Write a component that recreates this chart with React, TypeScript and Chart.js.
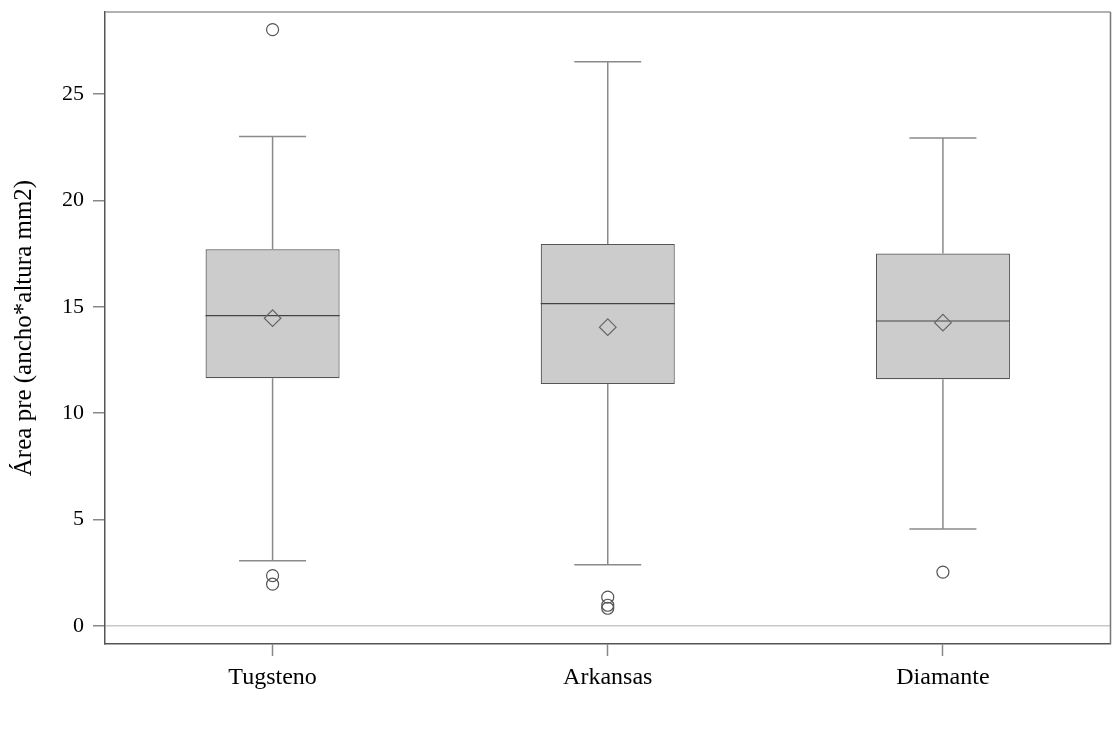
import React, { useEffect, useRef } from "react";
import { Chart, registerables } from "chart.js";

Chart.register(...registerables);

// Groups and their five-number summaries
const groups = ["Tugsteno", "Arkansas", "Diamante"];
const q1 = [11.64, 11.37, 11.59];
const medians = [14.58, 15.15, 14.33];
const q3 = [17.7, 17.95, 17.5];
const whiskerLow = [3.06, 2.87, 4.56];
const whiskerHigh = [23.0, 26.51, 22.93];
const means = [14.46, 14.04, 14.25];

// Individual points outside the whiskers
const outlierGroups = ["Tugsteno", "Tugsteno", "Tugsteno", "Arkansas", "Arkansas", "Arkansas", "Diamante"];
const outlierValues = [28.02, 2.36, 1.96, 1.35, 0.97, 0.83, 2.53];

const yTicks = [0, 5, 10, 15, 20, 25];
const yMin = -0.85;
const yMax = 28.85;

const FONT = "'Liberation Serif', 'Times New Roman', serif";

// Whiskers, caps, medians and the top/right frame lines
const boxExtras = {
  id: "boxExtras",
  afterDatasetDraw(chart: any, args: any) {
    if (args.index !== 0) return;
    const { ctx, scales } = chart;
    const y = scales.y;
    const meta = chart.getDatasetMeta(0);
    ctx.save();
    meta.data.forEach((bar: any, i: number) => {
      const cx = bar.x;
      const half = bar.width / 2;
      const capHalf = half / 2;
      const yQ1 = y.getPixelForValue(q1[i]);
      const yQ3 = y.getPixelForValue(q3[i]);
      const yLo = y.getPixelForValue(whiskerLow[i]);
      const yHi = y.getPixelForValue(whiskerHigh[i]);
      const yMed = y.getPixelForValue(medians[i]);
      ctx.strokeStyle = "#8a8a8a";
      ctx.lineWidth = 1.5;
      ctx.beginPath();
      ctx.moveTo(cx, yQ3);
      ctx.lineTo(cx, yHi);
      ctx.moveTo(cx - capHalf, yHi);
      ctx.lineTo(cx + capHalf, yHi);
      ctx.moveTo(cx, yQ1);
      ctx.lineTo(cx, yLo);
      ctx.moveTo(cx - capHalf, yLo);
      ctx.lineTo(cx + capHalf, yLo);
      ctx.stroke();
      ctx.strokeStyle = "#444444";
      ctx.lineWidth = 1.2;
      ctx.beginPath();
      ctx.moveTo(cx - half, yMed);
      ctx.lineTo(cx + half, yMed);
      ctx.stroke();
    });
    ctx.restore();
  },
  afterDraw(chart: any) {
    const { ctx, chartArea } = chart;
    ctx.save();
    ctx.lineWidth = 1.5;
    ctx.strokeStyle = "#999999";
    ctx.beginPath();
    ctx.moveTo(chartArea.left, chartArea.top);
    ctx.lineTo(chartArea.right, chartArea.top);
    ctx.stroke();
    ctx.strokeStyle = "#777777";
    ctx.beginPath();
    ctx.moveTo(chartArea.right, chartArea.top);
    ctx.lineTo(chartArea.right, chartArea.bottom);
    ctx.stroke();
    ctx.restore();
  },
};

export default function App() {
  const canvasRef = useRef<HTMLCanvasElement>(null);

  useEffect(() => {
    if (!canvasRef.current) return;
    const chart = new Chart(canvasRef.current, {
      type: "bar",
      data: {
        labels: groups,
        datasets: [
          {
            type: "bar",
            order: 3,
            data: q1.map((lo, i) => [lo, q3[i]]) as any,
            backgroundColor: "#cccccc",
            borderColor: "#555555",
            borderWidth: 1.2,
            borderSkipped: false,
            categoryPercentage: 1,
            barPercentage: 0.4,
          },
          {
            type: "line",
            order: 1,
            data: means as any,
            showLine: false,
            pointStyle: "rectRot",
            pointRadius: 8.3,
            pointBorderWidth: 1.2,
            pointBorderColor: "#666666",
            pointBackgroundColor: "transparent",
          },
          {
            type: "line",
            order: 2,
            data: outlierGroups.map((g, i) => ({ x: g, y: outlierValues[i] })) as any,
            showLine: false,
            pointStyle: "circle",
            pointRadius: 6,
            pointBorderWidth: 1.2,
            pointBorderColor: "#555555",
            pointBackgroundColor: "transparent",
          },
        ],
      },
      options: {
        animation: false,
        responsive: false,
        maintainAspectRatio: false,
        layout: { padding: { top: 12, right: 2, left: 0, bottom: 0 } },
        plugins: { legend: { display: false }, tooltip: { enabled: false } },
        scales: {
          x: {
            type: "category",
            offset: true,
            grid: {
              offset: false,
              drawOnChartArea: false,
              tickLength: 12,
              tickColor: "#888888",
              tickWidth: 1.5,
            },
            border: { color: "#555555", width: 1.5 },
            ticks: {
              color: "#000000",
              font: { family: FONT, size: 24 },
              padding: 7,
            },
            afterFit(scale: any) {
              scale.height = 99;
              scale.paddingLeft = 0;
              scale.paddingRight = 0;
            },
          },
          y: {
            type: "linear",
            min: yMin,
            max: yMax,
            afterBuildTicks(scale: any) {
              scale.ticks = yTicks.map((v) => ({ value: v }));
            },
            grid: {
              color: (c: any) => (c.tick && c.tick.value === 0 ? "#c8c8c8" : "rgba(0,0,0,0)"),
              lineWidth: 1.5,
              tickLength: 12,
              tickColor: "#888888",
              tickWidth: 1.5,
            },
            border: { color: "#555555", width: 1.5 },
            ticks: {
              color: "#000000",
              font: { family: FONT, size: 22 },
              padding: 9,
            },
            title: {
              display: true,
              text: "Área pre (ancho*altura mm2)",
              color: "#000000",
              font: { family: FONT, size: 25 },
              padding: { top: 9, bottom: 0 },
            },
            afterFit(scale: any) {
              scale.width = 105;
              scale.paddingTop = 0;
              scale.paddingBottom = 0;
            },
          },
        },
      },
      plugins: [boxExtras],
    });
    return () => chart.destroy();
  }, []);

  return (
    <div
      style={{
        position: "absolute",
        left: 0,
        top: 0,
        width: 1116,
        height: 743,
        overflow: "hidden",
        background: "#ffffff",
      }}
    >
      <canvas ref={canvasRef} width={1120} height={743} style={{ display: "block" }} />
    </div>
  );
}
